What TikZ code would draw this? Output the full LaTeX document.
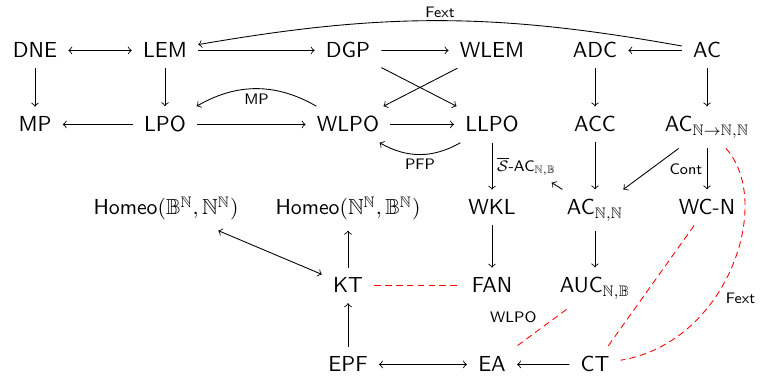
\documentclass[tikz,border=0pt]{standalone}
\usepackage{amsmath,amssymb}
\usepackage{tikz}

\begin{document}
\begin{tikzpicture}[x=0.46pt,y=0.46pt,yscale=-1,xscale=1,
    obj/.style={anchor=base,inner xsep=5pt,inner ysep=4.5pt,font=\sffamily},
    lbl/.style={font=\sffamily\scriptsize,inner sep=2pt,text=black},
    rel/.style={red,dash pattern=on 3pt off 2pt}]
\useasboundingbox (0,0) rectangle (767,378);

% first row
\node[obj] (DNE) at (35,58) {DNE};
\node[obj] (LEM) at (165,58) {LEM};
\node[obj] (DGP) at (348,58) {DGP};
\node[obj] (WLEM) at (492,58) {WLEM};
\node[obj] (ADC) at (595,58) {ADC};
\node[obj] (AC) at (707,58) {AC};
% second row
\node[obj] (MP) at (35,132) {MP};
\node[obj] (LPO) at (165,132) {LPO};
\node[obj] (WLPO) at (348,132) {WLPO};
\node[obj] (LLPO) at (492,132) {LLPO};
\node[obj] (ACC) at (595,132) {ACC};
\node[obj] (ACfun) at (707,132) {AC$_{\mathbb{N}\to\mathbb{N},\mathbb{N}}$};
% third row
\node[obj] (HomeoB) at (166,215) {Homeo$(\mathbb{B}^{\mathbb{N}},\mathbb{N}^{\mathbb{N}})$};
\node[obj] (HomeoN) at (348,215) {Homeo$(\mathbb{N}^{\mathbb{N}},\mathbb{B}^{\mathbb{N}})$};
\node[obj] (WKL) at (492,215) {WKL};
\node[obj] (ACnn) at (595,215) {AC$_{\mathbb{N},\mathbb{N}}$};
\node[obj] (WCN) at (707,215) {WC-N};
% fourth row
\node[obj] (KT) at (348,293) {KT};
\node[obj] (FAN) at (492,293) {FAN};
\node[obj] (AUC) at (595,293) {AUC$_{\mathbb{N},\mathbb{B}}$};
% fifth row
\node[obj] (EPF) at (348,372) {EPF};
\node[obj] (EA) at (492,372) {EA};
\node[obj] (CT) at (595,372) {CT};

% implications
\draw[<->] (DNE) -- (LEM);
\draw[->] (LEM) -- (DGP);
\draw[->] (DGP) -- (WLEM);
\draw[->] (AC) -- (ADC);
\draw[->] (AC) to[bend left=10] node[lbl,above,inner sep=1pt] (fextTop) {Fext} (LEM);
\draw[->] (DNE) -- (MP);
\draw[->] (LEM) -- (LPO);
\draw[->] (DGP) -- (LLPO);
\draw[->] (WLEM) -- (WLPO);
\draw[->] (ADC) -- (ACC);
\draw[->] (AC) -- (ACfun);
\draw[->] (LPO) -- (MP);
\draw[->] (LPO) -- (WLPO);
\draw[->] (WLPO) to[bend left=30] node[lbl,below] (mpLbl) {MP} (LPO);
\draw[->] (WLPO) -- (LLPO);
\draw[->] (LLPO) to[bend right=30] node[lbl,below] (pfpLbl) {PFP} (WLPO);
\draw[->] (LLPO) -- node[lbl,right] (sac) {$\overline{\mathcal{S}}$-AC$_{\mathbb{N},\mathbb{B}}$} (WKL);
\draw[->] (ACC) -- (ACnn);
\draw[->] (ACfun) -- (ACnn);
\draw[->] (ACfun) -- node[lbl,left] (contLbl) {Cont} (WCN);
\draw[->,shorten >=2pt] (ACnn) -- (sac);
\draw[<->] (HomeoB) -- (KT);
\draw[->] (KT) -- (HomeoN);
\draw[->] (WKL) -- (FAN);
\draw[->] (ACnn) -- (AUC);
\draw[->] (EPF) -- (KT);
\draw[<->] (EPF) -- (EA);
\draw[->] (CT) -- (EA);

% red relations
\draw[rel] (KT) -- (FAN);
\draw[rel] (AUC) -- node[lbl,above left] (wlpoLbl) {WLPO} (EA);
\draw[rel] (WCN) -- (CT);
\draw[rel] (ACfun) to[out=60,in=-15] node[lbl,pos=0.62,right=3pt] (fextRed) {Fext} (CT);
\end{tikzpicture}
\end{document}
